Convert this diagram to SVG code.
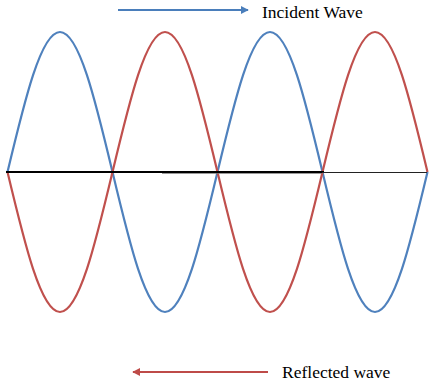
<svg xmlns="http://www.w3.org/2000/svg" width="429" height="388" viewBox="0 0 429 388">
<defs>
<style>
.wave{fill:none;stroke-width:2.2}
.blue{stroke:#4F81BD}
.red{stroke:#C0504D}
.lbl{font-family:"Liberation Serif","Times New Roman",serif;font-size:17.5px;fill:#000}
</style>
<marker id="ab" viewBox="0 0 10 10" refX="9" refY="5" markerWidth="4" markerHeight="4" orient="auto"><path d="M0,0 L10,5 L0,10 z" fill="#4A7EBB"/></marker>
<marker id="ar" viewBox="0 0 10 10" refX="9" refY="5" markerWidth="4" markerHeight="4" orient="auto"><path d="M0,0 L10,5 L0,10 z" fill="#BE4B48"/></marker>
</defs>
<rect width="429" height="388" fill="#fff"/>
<g id="incident-wave">
<path class="wave blue" d="M7.5,172 c17.12,-71.72 33.5,-140 52.5,-140 c19,0 35.38,68.28 52.5,140 c17.12,71.72 33.5,140 52.5,140 c19,0 35.38,-68.28 52.5,-140 c17.12,-71.72 33.5,-140 52.5,-140 c19,0 35.38,68.28 52.5,140 c17.12,71.72 33.5,140 52.5,140 c19,0 35.38,-68.28 52.5,-140"/>
</g>
<g id="reflected-wave">
<path class="wave red" d="M7.5,172 c17.12,71.72 33.5,140 52.5,140 c19,0 35.38,-68.28 52.5,-140 c17.12,-71.72 33.5,-140 52.5,-140 c19,0 35.38,68.28 52.5,140 c17.12,71.72 33.5,140 52.5,140 c19,0 35.38,-68.28 52.5,-140 c17.12,-71.72 33.5,-140 52.5,-140 c19,0 35.38,68.28 52.5,140"/>
</g>
<g id="axis">
<line x1="162" y1="173.2" x2="322" y2="173.2" stroke="#777" stroke-width="1.2"/>
<line x1="6" y1="172" x2="324" y2="172" stroke="#000" stroke-width="2"/>
<line x1="322" y1="172.5" x2="427" y2="172.5" stroke="#222" stroke-width="1.2"/>
</g>
<g id="connectors">
<line x1="118" y1="10" x2="248" y2="10" stroke="#4A7EBB" stroke-width="2" marker-end="url(#ab)"/>
<line x1="268" y1="372" x2="133" y2="372" stroke="#BE4B48" stroke-width="2" marker-end="url(#ar)"/>
</g>
<g id="label-incident"><text class="lbl" x="262" y="18">Incident Wave</text></g>
<g id="label-reflected"><text class="lbl" x="282" y="378">Reflected wave</text></g>
</svg>
